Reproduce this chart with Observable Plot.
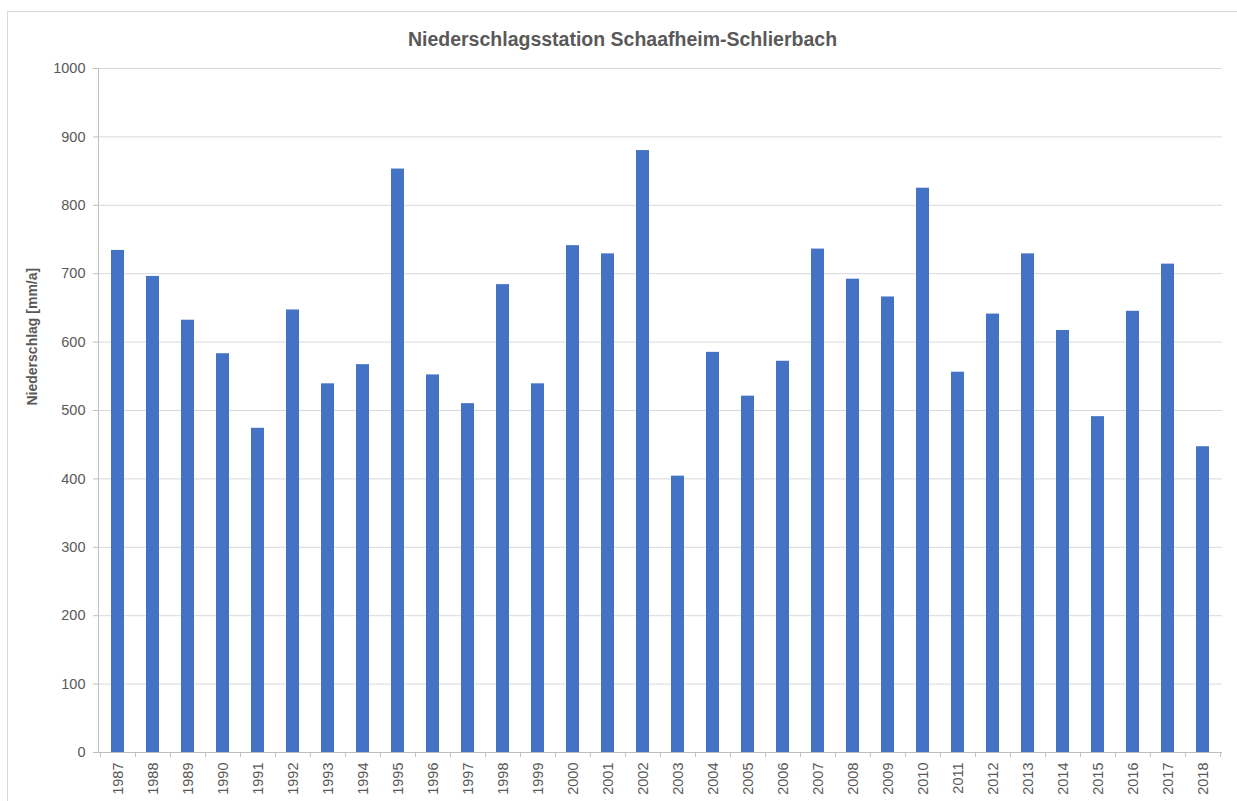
<!DOCTYPE html>
<html><head><meta charset="utf-8">
<script src="https://cdn.jsdelivr.net/npm/d3@7"></script>
<script src="https://cdn.jsdelivr.net/npm/@observablehq/plot@0.6"></script>
<style>
body{margin:0;background:#fff;font-family:"Liberation Sans",Arial,sans-serif}
#wrap{position:relative;width:1237px;height:801px;overflow:hidden}
#border{position:absolute;left:7px;top:11px;width:1240px;height:800px;border:1px solid #d9d9d9;pointer-events:none}
#wrap svg{position:absolute;left:0;top:0}
</style></head>
<body><div id="wrap"><div id="border"></div></div>
<script>
const years = ["1987","1988","1989","1990","1991","1992","1993","1994","1995","1996","1997","1998","1999","2000","2001","2002","2003","2004","2005","2006","2007","2008","2009","2010","2011","2012","2013","2014","2015","2016","2017","2018"];
const values = [734,696,632,583,474,647,539,567,853,552,510,684,539,741,729,880,404,585,521,572,736,692,666,825,556,641,729,617,491,645,714,447];
const yTicks = [0,100,200,300,400,500,600,700,800,900,1000];
const title = "Niederschlagsstation Schaafheim-Schlierbach";
const yLabel = "Niederschlag [mm/a]";

const data = years.map((y, i) => ({year: y, value: values[i]}));

const W = 1237, H = 801, mL = 98, mR = 15, mT = 68, mB = 49;
const half = (W - mL - mR) / years.length / 2;

const chart = Plot.plot({
  width: W, height: H,
  marginLeft: mL, marginRight: mR, marginTop: mT, marginBottom: mB,
  style: {fontFamily: "'Liberation Sans', Arial, sans-serif", fontSize: "14px", background: "transparent"},
  x: {type: "band", domain: years, paddingInner: 0.64, paddingOuter: 0.32, label: null},
  y: {domain: [0, 1000], label: null},
  marks: [
    Plot.gridY({ticks: yTicks, stroke: "#d9d9d9", strokeOpacity: 1, strokeWidth: 1}),
    Plot.barY(data, {x: "year", y: "value", fill: "#4472c4"}),
    Plot.ruleY([0], {stroke: "#bfbfbf"}),
    Plot.frame({anchor: "left", stroke: "#bfbfbf"}),
    Plot.axisY({ticks: yTicks, tickSize: 5, text: null, color: "#bfbfbf", label: null}),
    Plot.axisY({ticks: yTicks, tickSize: 0, tickPadding: 13, tickFormat: d3.format("d"), color: "#595959", fontSize: 14.5, label: null}),
    Plot.axisX({tickSize: 5, text: null, color: "#bfbfbf", dx: -half, label: null}),
    Plot.axisX({ticks: [years[years.length - 1]], tickSize: 5, text: null, color: "#bfbfbf", dx: half, label: null}),
    Plot.axisX({tickSize: 0, tickPadding: 10, tickRotate: -90, color: "#595959", fontSize: 14.5, label: null}),
    Plot.text([title], {frameAnchor: "top", lineAnchor: "middle", dy: -29, dx: -38, fontWeight: "bold", fontSize: 19.5, fill: "#595959"}),
    Plot.text([yLabel], {frameAnchor: "left", textAnchor: "start", dx: -66, dy: -5, rotate: -90, fontWeight: "bold", fontSize: 14, fill: "#595959"})
  ]
});
document.getElementById("wrap").appendChild(chart);
</script>
</body></html>
